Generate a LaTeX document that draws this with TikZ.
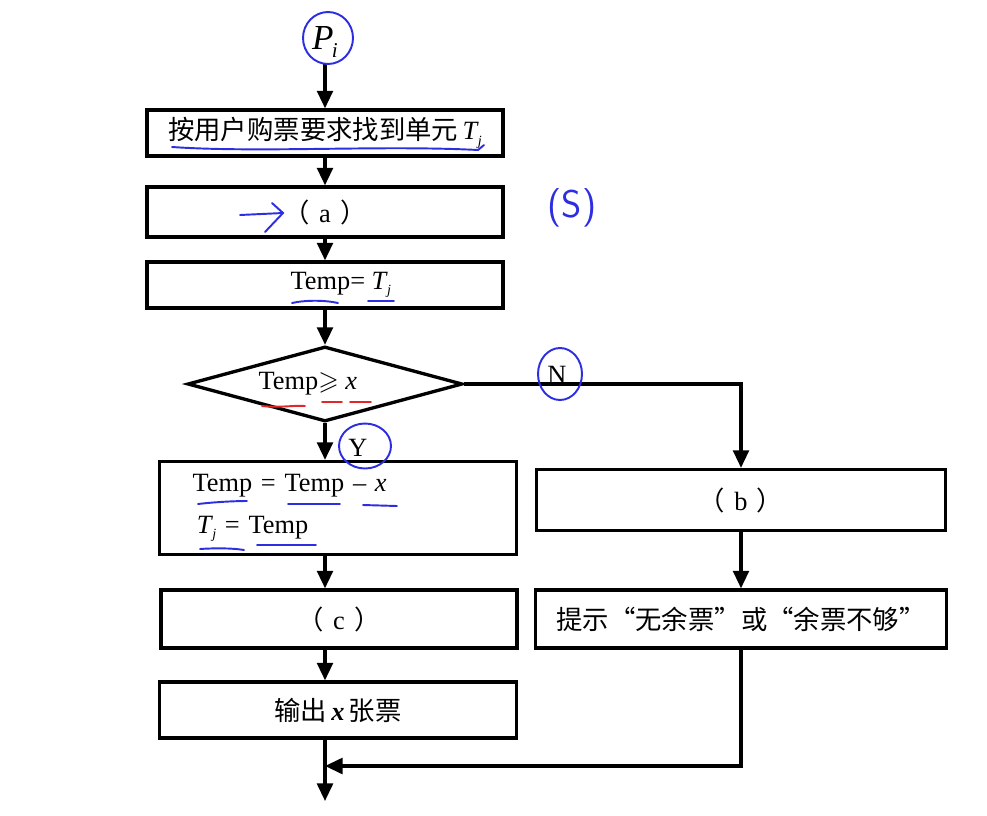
\documentclass[tikz,border=0pt]{standalone}
\usepackage{fontspec}
\usepackage{amssymb}
\setmainfont{Liberation Serif}
\newfontfamily\cjk{Noto Sans CJK SC}
\usetikzlibrary{positioning,arrows.meta,shapes.geometric}
\definecolor{pen}{RGB}{45,45,225}
\definecolor{redpen}{RGB}{225,40,40}
\newcommand{\pa}[1]{{\cjk （}\hspace{0.35em}#1\hspace{0.35em}{\cjk ）}}
\newcommand{\Tj}{\textit{T}\kern-0.5pt\raisebox{-0.45ex}{\footnotesize\textit{j}}}
\newcommand{\vx}{\textit{x}}

\begin{document}
\begin{tikzpicture}[x=0.02cm, y=-0.02cm,
  bx/.style 2 args={draw, line width=1.9pt, minimum width=#1, minimum height=#2,
             inner sep=2pt, font=\fontsize{15}{18}\selectfont},
  ar/.style={-{Triangle[length=10pt,width=9pt]}, line width=1.8pt},
  lb/.style={font=\fontsize{15}{18}\selectfont},
  hand/.style={draw=#1, line width=1.1pt, line cap=round},
  hand/.default=pen,
]
\useasboundingbox[fill=white] (0,0) rectangle (987,815);

% flow boxes
\node[font=\fontsize{20}{22}\selectfont] (pi) at (325,42) {\textit{P}\kern-1pt\raisebox{-0.45ex}{\large\textit{i}}};
\node[bx={7.12cm}{0.92cm}] (find) at (325,133) {{\cjk 按用户购票要求找到单元}\,\Tj};
\node[bx={7.12cm}{1.0cm}]  (a)    at (325,212) {\pa{a}};
\node[bx={7.12cm}{0.92cm}] (tmp)  at (325,285) {\hspace{1.2em}Temp= \Tj};
\node[draw, line width=1.9pt, diamond, aspect=3.7, minimum width=5.5cm,
      minimum height=1.5cm, inner sep=0pt, font=\fontsize{15}{18}\selectfont]
      (dec) at (325,384) {Temp$\geqslant$ \vx\rule{1.3em}{0pt}};
\node[bx={7.14cm}{1.86cm}, align=left, text width=5.82cm, inner xsep=0.66cm]
      (upd) at (338,508) {Temp = Temp -- \vx\\[6pt] \,\Tj{} = Temp};
\node[bx={7.12cm}{1.16cm}] (c)   at (339,619) {\pa{c}};
\node[bx={7.14cm}{1.12cm}] (out) at (338,710) {{\cjk 输出}\,\textbf{\vx}\,{\cjk 张票}};
\node[bx={8.18cm}{1.22cm}] (b)   at (741,500) {\pa{b}};
\node[bx={8.22cm}{1.16cm}] (tip) at (741,619) {{\cjk 提示“无余票”或“余票不够”}};

\node[lb] (n) at (557,375) {N};
\node[lb] (y) at (358,448) {Y};

\coordinate (m)   at (325,766);
\coordinate (end) at (325,801);

% connectors
\draw[ar] (pi) -- (find);
\draw[ar] (find) -- (a);
\draw[ar] (a) -- (tmp);
\draw[ar] (tmp) -- (dec);
\draw[ar] (dec.south) -- (upd.north -| dec.south);
\draw[ar] (dec.east) -| (b.north);
\draw[ar] (upd.south -| dec.south) -- (c.north -| dec.south);
\draw[ar] (c.south -| dec.south) -- (out.north -| dec.south);
\draw[ar] (b) -- (tip);
\draw[ar] (out.south -| end) -- (end);
\draw[ar] (tip.south) |- (m);

% pen marks
\draw[hand] (pi.center) ++(3,-4) ellipse [x radius=0.5cm, y radius=0.52cm];
\draw[hand] (n.center) ++(3,-1) ellipse [x radius=0.44cm, y radius=0.52cm];
\draw[hand] (y.center) ++(7,-2) ellipse [x radius=0.52cm, y radius=0.45cm];
\draw[hand] (172,147) .. controls (260,153) and (380,145) .. (478,150) -- (484,145);
\draw[hand] (240,215) -- (283,213);
\draw[hand] (272,203) -- (283,213) -- (265,232);
\draw[hand] (292,303) .. controls (305,300) and (325,300) .. (338,303);
\draw[hand] (368,301) -- (394,301);
\draw[hand=redpen] (262,406) .. controls (280,408) and (295,405) .. (305,406);
\draw[hand=redpen] (322,402) -- (342,402);
\draw[hand=redpen] (350,402) -- (371,402);
\draw[hand] (198,504) .. controls (215,502) and (235,501) .. (247,501);
\draw[hand] (288,504) -- (340,504);
\draw[hand] (363,505) -- (397,506);
\draw[hand] (200,549) .. controls (215,548) and (232,548) .. (244,550);
\draw[hand] (257,545) -- (316,545);
\node[font=\sffamily\fontsize{22}{24}\selectfont, text=pen] (s) at (572,208) {(S)};
\end{tikzpicture}
\end{document}
